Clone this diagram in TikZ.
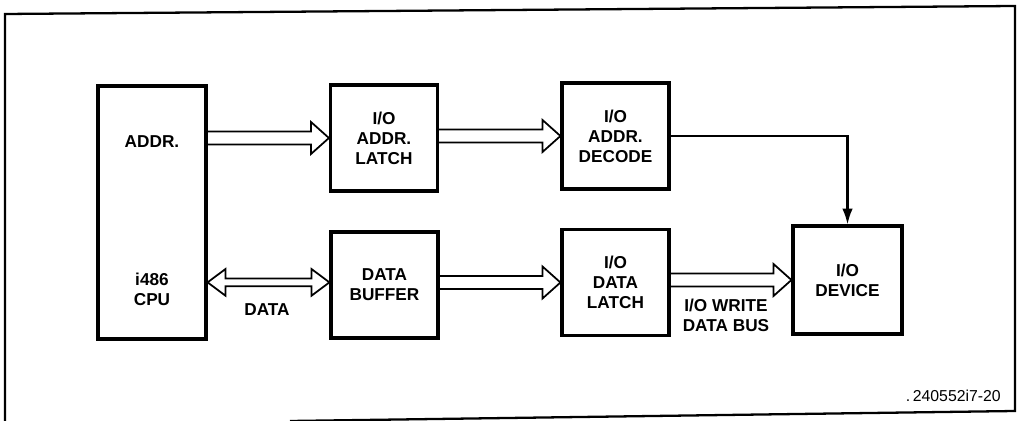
\documentclass[tikz,border=0pt]{standalone}
\usepackage{fontspec}
\setmainfont{Liberation Sans}
\usepackage{tikz}
\usetikzlibrary{calc,arrows.meta}

% hollow bus arrows, drawn from the east side of #1 to the west side of #2
\newcommand{\busarrow}[2]{%
  \draw[bus] let \p1=(#1.east), \p2=(#2.west) in
    (\x1,\y2+3.7pt) -- (\x2-10.2pt,\y2+3.7pt) -- (\x2-10.2pt,\y2+9.1pt) -- (\x2,\y2)
    -- (\x2-10.2pt,\y2-9.1pt) -- (\x2-10.2pt,\y2-3.7pt) -- (\x1,\y2-3.7pt);}
\newcommand{\busboth}[2]{%
  \draw[bus] let \p1=(#1.east), \p2=(#2.west) in
    (\x1,\y2+1.5pt) -- (\x1+10.2pt,\y2+9.1pt) -- (\x1+10.2pt,\y2+3.7pt) -- (\x2-10.2pt,\y2+3.7pt)
    -- (\x2-10.2pt,\y2+9.1pt) -- (\x2,\y2+1.5pt) -- (\x2-10.2pt,\y2-6.1pt) -- (\x2-10.2pt,\y2-0.7pt)
    -- (\x1+10.2pt,\y2-0.7pt) -- (\x1+10.2pt,\y2-6.1pt) -- cycle;}

\begin{document}
\begin{tikzpicture}[x=0.02cm,y=-0.02cm,
    box/.style={draw, line width=1.8pt, minimum width=2.14cm, minimum height=2.12cm,
      align=center, font=\fontsize{9.8}{11.4}\selectfont\bfseries},
    txt/.style={align=center, font=\fontsize{9.8}{11.4}\selectfont\bfseries},
    bus/.style={line width=1pt, line join=miter}]
  \useasboundingbox (0,0) rectangle (1017,421);
  % frame
  \draw[line width=1.3pt] (5,421) -- (5,14) -- (1015,6) -- (1015,411) -- (290,421);

  % blocks
  \node[box, minimum width=2.16cm, minimum height=5.06cm] (cpu) at (152,212.5) {};
  \node[txt] (cpuaddr) at (152,142) {ADDR.};
  \node[txt] (cpuname) at (152,289) {i486\\CPU};

  \node[box] (addrlatch) at (384,138) {I/O\\ADDR.\\LATCH};
  \node[box] (decode) at (615.5,136) {I/O\\ADDR.\\DECODE};
  \node[box] (databuf) at (384.5,285) {DATA\\BUFFER};
  \node[box] (datalatch) at (615.5,282.5) {I/O\\DATA\\LATCH};
  \node[box, minimum width=2.18cm, minimum height=2.16cm] (device) at (847.5,280) {I/O\\DEVICE};

  % buses
  \busarrow{cpu}{addrlatch}
  \busarrow{addrlatch}{decode}
  \busboth{cpu}{databuf}
  \busarrow{databuf}{datalatch}
  \busarrow{datalatch}{device}
  \draw[line width=1.2pt, -{Latex[length=9pt,width=6pt]}] (decode.east) -| (device.north);

  \node[txt] (datalabel) at (267,310) {DATA};
  \node[txt] (buslabel) at (726,315) {I/O WRITE\\DATA BUS};
  \node[anchor=east, font=\fontsize{9}{11}\selectfont] (figno) at (1007,396) {.\,240552i7-20};
\end{tikzpicture}
\end{document}
